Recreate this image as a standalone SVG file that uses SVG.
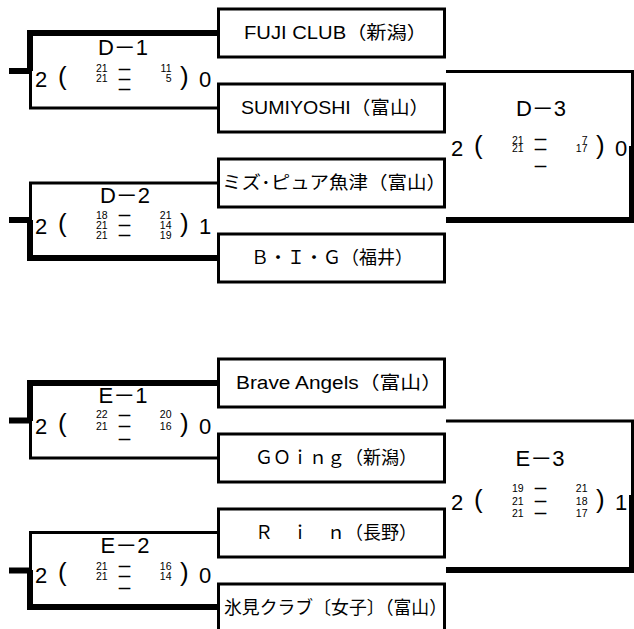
<svg xmlns="http://www.w3.org/2000/svg" width="634" height="629" viewBox="0 0 634 629">
<style>
.box{fill:#fff;stroke:#000;stroke-width:3}
.team{font-family:"Liberation Sans","Noto Sans CJK JP",sans-serif;font-size:18px;fill:#000}
.lbl{font-family:"Liberation Sans","Noto Sans CJK JP",sans-serif;font-size:22px;fill:#000;text-anchor:middle}
.big{font-family:"Liberation Sans","Noto Sans CJK JP",sans-serif;font-size:22px;fill:#000}
.par{font-family:"Liberation Sans",sans-serif;font-size:26px;fill:#000}
.sm{font-family:"Liberation Sans",sans-serif;font-size:10.5px;fill:#000}
.smr{font-family:"Liberation Sans",sans-serif;font-size:10.5px;fill:#000;text-anchor:end}
.dash{font-family:"Liberation Sans",sans-serif;font-size:11px;fill:#000;stroke:#000;stroke-width:0.6}
.thin{fill:none;stroke:#000;stroke-width:3;stroke-linejoin:miter}
.thick{fill:none;stroke:#000;stroke-width:6;stroke-linejoin:miter}
</style>
<rect width="634" height="629" fill="#fff"/>
<g id="connectors">
  <path class="thick" d="M218 33 H30 V71"/>
  <path class="thin" d="M30.5 71 V108 H218"/>
  <path class="thick" d="M9 71 H31"/>
  <path class="thin" d="M218 183 H30.5 V221"/>
  <path class="thick" d="M30 220 V258 H218"/>
  <path class="thick" d="M9 220 H31"/>
  <path class="thin" d="M446 71.5 H632.5 V147"/>
  <path class="thick" d="M632 146 V220 H446"/>
  <path class="thick" d="M218 383 H30 V421"/>
  <path class="thin" d="M30.5 421 V458 H218"/>
  <path class="thick" d="M9 420.5 H31"/>
  <path class="thin" d="M218 532.5 H30.5 V571"/>
  <path class="thick" d="M30 570 V607 H218"/>
  <path class="thick" d="M9 570.5 H31"/>
  <path class="thin" d="M446 421 H632.5 V496"/>
  <path class="thick" d="M632 495 V570 H446"/>
</g>

<g id="team-fuji">
  <rect class="box" x="218.5" y="9" width="226" height="48"/>
  <text class="team" x="244" y="38.5" textLength="183" lengthAdjust="spacingAndGlyphs">FUJI CLUB（新潟）</text>
</g>
<g id="team-sumiyoshi">
  <rect class="box" x="218.5" y="84" width="226" height="48"/>
  <text class="team" x="241" y="113.5" textLength="188" lengthAdjust="spacingAndGlyphs">SUMIYOSHI（富山）</text>
</g>
<g id="team-mizupure">
  <rect class="box" x="218.5" y="159" width="226" height="48"/>
  <text class="team" x="222" y="188.5" textLength="224" lengthAdjust="spacingAndGlyphs">ミズ･ピュア魚津（富山）</text>
</g>
<g id="team-big">
  <rect class="box" x="218.5" y="234" width="226" height="48"/>
  <text class="team" x="251" y="263.5" textLength="162" lengthAdjust="spacingAndGlyphs">Ｂ・Ｉ・Ｇ（福井）</text>
</g>

<g id="team-brave">
  <rect class="box" x="218.5" y="359" width="226" height="48"/>
  <text class="team" x="236" y="388.5" textLength="206" lengthAdjust="spacingAndGlyphs">Brave Angels（富山）</text>
</g>
<g id="team-going">
  <rect class="box" x="218.5" y="434" width="226" height="48"/>
  <text class="team" x="255" y="463.5" textLength="162" lengthAdjust="spacingAndGlyphs">ＧＯｉｎｇ（新潟）</text>
</g>
<g id="team-rin">
  <rect class="box" x="218.5" y="509" width="226" height="48"/>
  <text class="team" x="255" y="538.5" textLength="162" lengthAdjust="spacingAndGlyphs">Ｒ　ｉ　ｎ（長野）</text>
</g>
<g id="team-himi">
  <rect class="box" x="218.5" y="584" width="226" height="48"/>
  <text class="team" x="224" y="613.5" textLength="223" lengthAdjust="spacingAndGlyphs">氷見クラブ〔女子〕（富山）</text>
</g>

<g id="match-d1">
  <text class="lbl" x="123" y="55">D－1</text>
  <text class="big" x="35" y="87">2</text>
  <text class="par" x="58" y="85">(</text>
  <text class="sm"><tspan x="96" y="72">21</tspan><tspan x="96" y="82">21</tspan></text>
  <text class="dash"><tspan x="119" y="72.3">—</tspan><tspan x="119" y="82.3">—</tspan><tspan x="119" y="92.3">—</tspan></text>
  <text class="smr"><tspan x="171.5" y="72">11</tspan><tspan x="171.5" y="82">5</tspan></text>
  <text class="par" x="180" y="85">)</text>
  <text class="big" x="199" y="87">0</text>
</g>
<g id="match-d2">
  <text class="lbl" x="125" y="203">D－2</text>
  <text class="big" x="35" y="234">2</text>
  <text class="par" x="58" y="232">(</text>
  <text class="sm"><tspan x="96" y="218.6">18</tspan><tspan x="96" y="228.6">21</tspan><tspan x="96" y="238.6">21</tspan></text>
  <text class="dash"><tspan x="119" y="218">—</tspan><tspan x="119" y="228">—</tspan><tspan x="119" y="238">—</tspan></text>
  <text class="smr"><tspan x="171.5" y="218.6">21</tspan><tspan x="171.5" y="228.6">14</tspan><tspan x="171.5" y="238.6">19</tspan></text>
  <text class="par" x="180" y="232">)</text>
  <text class="big" x="199" y="234">1</text>
</g>
<g id="match-d3">
  <text class="lbl" x="541" y="116">D－3</text>
  <text class="big" x="451" y="156">2</text>
  <text class="par" x="474" y="154">(</text>
  <text class="sm"><tspan x="512" y="143.6">21</tspan><tspan x="512" y="151.6">21</tspan></text>
  <text class="dash"><tspan x="535" y="142.3">—</tspan><tspan x="535" y="152">—</tspan><tspan x="535" y="168.7">—</tspan></text>
  <text class="smr"><tspan x="587.5" y="143.6">7</tspan><tspan x="587.5" y="151.6">17</tspan></text>
  <text class="par" x="596" y="154">)</text>
  <text class="big" x="615" y="156">0</text>
</g>

<g id="match-e1">
  <text class="lbl" x="123" y="403">E－1</text>
  <text class="big" x="35" y="434">2</text>
  <text class="par" x="58" y="432">(</text>
  <text class="sm"><tspan x="96" y="418">22</tspan><tspan x="96" y="429.5">21</tspan></text>
  <text class="dash"><tspan x="119" y="417.5">—</tspan><tspan x="119" y="429">—</tspan><tspan x="119" y="442">—</tspan></text>
  <text class="smr"><tspan x="171.5" y="418">20</tspan><tspan x="171.5" y="429.5">16</tspan></text>
  <text class="par" x="180" y="432">)</text>
  <text class="big" x="199" y="434">0</text>
</g>
<g id="match-e2">
  <text class="lbl" x="125" y="553">E－2</text>
  <text class="big" x="35" y="583">2</text>
  <text class="par" x="58" y="581">(</text>
  <text class="sm"><tspan x="96" y="569.6">21</tspan><tspan x="96" y="579.6">21</tspan></text>
  <text class="dash"><tspan x="119" y="569">—</tspan><tspan x="119" y="579">—</tspan><tspan x="119" y="591">—</tspan></text>
  <text class="smr"><tspan x="171.5" y="569.6">16</tspan><tspan x="171.5" y="579.6">14</tspan></text>
  <text class="par" x="180" y="581">)</text>
  <text class="big" x="199" y="583">0</text>
</g>
<g id="match-e3">
  <text class="lbl" x="540" y="466">E－3</text>
  <text class="big" x="451" y="510">2</text>
  <text class="par" x="474" y="508">(</text>
  <text class="sm"><tspan x="512" y="491.6">19</tspan><tspan x="512" y="504.6">21</tspan><tspan x="512" y="516.6">21</tspan></text>
  <text class="dash"><tspan x="535" y="491">—</tspan><tspan x="535" y="504">—</tspan><tspan x="535" y="516">—</tspan></text>
  <text class="smr"><tspan x="587.5" y="491.6">21</tspan><tspan x="587.5" y="504.6">18</tspan><tspan x="587.5" y="516.6">17</tspan></text>
  <text class="par" x="596" y="508">)</text>
  <text class="big" x="615" y="510">1</text>
</g>
</svg>
